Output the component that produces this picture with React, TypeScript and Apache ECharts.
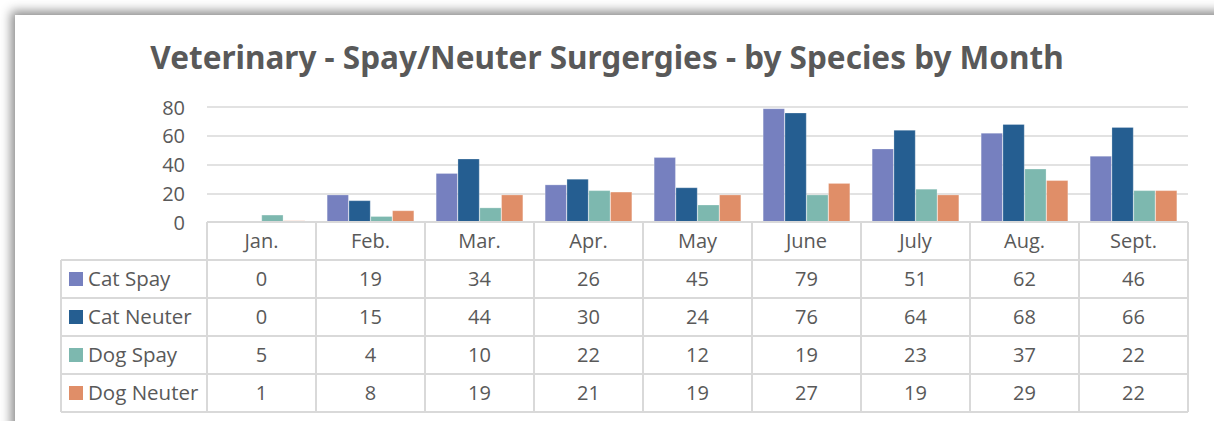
import React, { useEffect, useRef } from "react";
import * as echarts from "echarts";

const title = "Veterinary - Spay/Neuter Surgergies - by Species by Month";
const months = ["Jan.", "Feb.", "Mar.", "Apr.", "May", "June", "July", "Aug.", "Sept."];
const seriesNames = ["Cat Spay", "Cat Neuter", "Dog Spay", "Dog Neuter"];
const catSpay = [0, 19, 34, 26, 45, 79, 51, 62, 46];
const catNeuter = [0, 15, 44, 30, 24, 76, 64, 68, 66];
const dogSpay = [5, 4, 10, 22, 12, 19, 23, 37, 22];
const dogNeuter = [1, 8, 19, 21, 19, 27, 19, 29, 22];
const seriesValues = [catSpay, catNeuter, dogSpay, dogNeuter];
const colors = ["#7680BF", "#255E91", "#7DB8AF", "#E08E68"];
const yMin = 0;
const yMax = 80;
const yStep = 20;

// layout
const W = 1214;
const H = 421;
const GL = 207;
const GR = 1188;
const GT = 107;
const AX = 222;
const ROW = 38;
const TL = 61;
const GRID_COLOR = "#d9d9d9";
const TEXT_COLOR = "#595959";
const FONT = '"Open Sans", "Noto Sans", sans-serif';

export default function App() {
  const ref = useRef<HTMLDivElement>(null);
  useEffect(() => {
    if (!ref.current) return;
    const chart = echarts.init(ref.current, null, { renderer: "svg" });
    const colW = (GR - GL) / months.length;
    const nRows = seriesNames.length + 1;
    const graphics: any[] = [];
    // title
    graphics.push({
      type: "text",
      style: {
        text: title,
        x: 607,
        y: 56,
        align: "center",
        verticalAlign: "middle",
        font: 'bold 31.5px "Noto Sans", sans-serif',
        fill: TEXT_COLOR,
      },
    });
    // table lines
    const ln = (x1: number, y1: number, x2: number, y2: number) => ({
      type: "line",
      shape: { x1, y1, x2, y2 },
      style: { stroke: GRID_COLOR, lineWidth: 2 },
      z: 10,
    });
    graphics.push(ln(GL, AX, GR, AX));
    for (let k = 1; k <= nRows; k++) graphics.push(ln(TL, AX + ROW * k, GR, AX + ROW * k));
    graphics.push(ln(TL, AX + ROW, TL, AX + ROW * nRows));
    for (let i = 0; i <= months.length; i++)
      graphics.push(ln(GL + colW * i, AX, GL + colW * i, AX + ROW * nRows));
    // row headers
    seriesNames.forEach((name, r) => {
      const cy = AX + ROW * (r + 1) + ROW / 2;
      graphics.push({
        type: "rect",
        shape: { x: 69, y: cy - 7, width: 14, height: 14 },
        style: { fill: colors[r] },
        z: 10,
      });
      graphics.push({
        type: "text",
        style: {
          text: name,
          x: 88,
          y: cy - 1,
          verticalAlign: "middle",
          font: `20.5px ${FONT}`,
          fill: TEXT_COLOR,
        },
        z: 10,
      });
    });

    chart.setOption({
      animation: false,
      grid: { left: GL, right: W - GR, top: GT, bottom: H - AX, containLabel: false },
      xAxis: {
        type: "category",
        data: months,
        axisLine: { show: false },
        axisTick: { show: false },
        axisLabel: {
          interval: 0,
          margin: -1,
          color: TEXT_COLOR,
          fontFamily: FONT,
          fontSize: 20,
          lineHeight: ROW,
          formatter: (v: string, idx: number) =>
            [v, ...seriesValues.map((s) => String(s[idx]))].join("\n"),
        },
      },
      yAxis: {
        type: "value",
        min: yMin,
        max: yMax,
        interval: yStep,
        axisLine: { show: false },
        axisTick: { show: false },
        axisLabel: { color: TEXT_COLOR, fontFamily: FONT, fontSize: 20, margin: 22 },
        splitLine: { lineStyle: { color: GRID_COLOR, width: 1.5 } },
      },
      series: seriesNames.map((name, i) => ({
        name,
        type: "bar",
        data: seriesValues[i],
        barGap: "0%",
        barCategoryGap: "20%",
        itemStyle: { color: colors[i], borderColor: "rgba(255,255,255,0.5)", borderWidth: 0.5 },
      })),
      graphic: graphics,
    });
    return () => chart.dispose();
  }, []);

  return (
    <div style={{ position: "fixed", left: 0, top: 0, width: W, height: H, overflow: "hidden", background: "#fff" }}>
      <div
        style={{
          position: "absolute",
          left: 15,
          top: 15,
          width: 1300,
          height: 500,
          background: "#fff",
          boxShadow: "-4px -4px 10px rgba(0,0,0,0.45)",
        }}
      />
      <div ref={ref} style={{ position: "absolute", left: 0, top: 0, width: W, height: H }} />
    </div>
  );
}
